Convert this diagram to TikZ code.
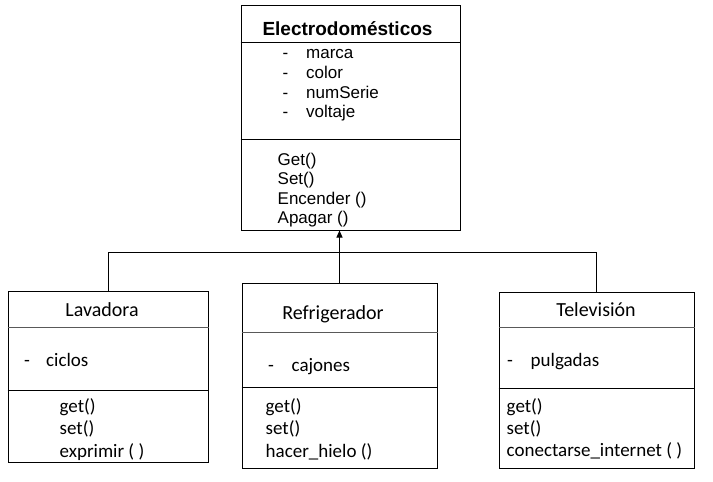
\documentclass[tikz,border=0pt]{standalone}
\usepackage{fontspec}
\setmainfont{Liberation Sans}
\newfontfamily\cbfont{Carlito}
\usetikzlibrary{arrows.meta}
\tikzset{
  box/.style={draw, line width=1pt, inner sep=0pt, anchor=north west},
  ttl/.style={anchor=base, inner sep=0pt, font=\bfseries\fontsize{19}{22}\selectfont},
  atxt/.style={anchor=base west, inner sep=0pt, font=\fontsize{17}{20}\selectfont},
  ctl/.style={anchor=base, inner sep=0pt, font=\cbfont\fontsize{20}{24}\selectfont},
  ctxt/.style={anchor=base west, inner sep=0pt, font=\cbfont\fontsize{19}{23}\selectfont},
  hdiv/.style={line width=1.2pt, draw=black!65},
  div/.style={line width=1pt},
  conn/.style={line width=1pt},
}
\begin{document}
\begin{tikzpicture}[x=1pt,y=-1pt]
\useasboundingbox (0,0) rectangle (713,482);
\fill[white] (0,0) rectangle (713,482);

% Electrodomesticos
\node[box, minimum width=219pt, minimum height=225pt] (elec) at (240.5,4.5) {};
\draw[div] ([yshift=-38pt]elec.north west) -- ([yshift=-38pt]elec.north east);
\draw[div] ([yshift=-135pt]elec.north west) -- ([yshift=-135pt]elec.north east);
\node[ttl] (etitle) at (347.5,35) {Electrodomésticos};
\node[atxt] (ed1) at (282.5,58.3) {-};
\node[atxt] (ed2) at (282.5,78.3) {-};
\node[atxt] (ed3) at (282.5,98.3) {-};
\node[atxt] (ed4) at (282.5,117.8) {-};
\node[atxt] (ea1) at (306,58.3) {marca};
\node[atxt] (ea2) at (306,78.3) {color};
\node[atxt] (ea3) at (306,98.3) {numSerie};
\node[atxt] (ea4) at (306,117.8) {voltaje};
\node[atxt] (em1) at (277.5,165) {Get()};
\node[atxt] (em2) at (277.5,184.5) {Set()};
\node[atxt] (em3) at (277.5,204) {Encender ()};
\node[atxt] (em4) at (277.5,223.5) {Apagar ()};

% Lavadora
\node[box, minimum width=200pt, minimum height=171pt] (lav) at (7.5,290.5) {};
\draw[hdiv] ([yshift=-37pt]lav.north west) -- ([yshift=-37pt]lav.north east);
\draw[div] ([yshift=-100pt]lav.north west) -- ([yshift=-100pt]lav.north east);
\node[ctl] (ltitle) at (102,316.7) {Lavadora};
\node[ctxt] (ld1) at (24,366.7) {-};
\node[ctxt] (la1) at (46,366.7) {ciclos};
\node[ctxt] (lm1) at (59.5,412) {get()};
\node[ctxt] (lm2) at (59.5,434.5) {set()};
\node[ctxt] (lm3) at (59.5,457) {exprimir ( )};

% Refrigerador
\node[box, minimum width=195pt, minimum height=185pt] (ref) at (241.5,282.5) {};
\draw[hdiv] ([yshift=-50pt]ref.north west) -- ([yshift=-50pt]ref.north east);
\draw[div] ([yshift=-105pt]ref.north west) -- ([yshift=-105pt]ref.north east);
\node[ctl] (rtitle) at (333,319.3) {Refrigerador};
\node[ctxt] (rd1) at (268,371.7) {-};
\node[ctxt] (ra1) at (291.5,371.7) {cajones};
\node[ctxt] (rm1) at (265.5,412) {get()};
\node[ctxt] (rm2) at (265.5,434.5) {set()};
\node[ctxt] (rm3) at (265.5,457.5) {hacer\_hielo ()};

% Television
\node[box, minimum width=195pt, minimum height=176pt] (tel) at (498.5,291.5) {};
\draw[hdiv] ([yshift=-36pt]tel.north west) -- ([yshift=-36pt]tel.north east);
\draw[div] ([yshift=-97pt]tel.north west) -- ([yshift=-97pt]tel.north east);
\node[ctl] (ttitle) at (596,316.7) {Televisión};
\node[ctxt] (td1) at (507,366.3) {-};
\node[ctxt] (ta1) at (530.5,366.3) {pulgadas};
\node[ctxt] (tm1) at (506.5,412) {get()};
\node[ctxt] (tm2) at (506.5,434) {set()};
\node[ctxt] (tm3) at (506.5,456) {conectarse\_internet ( )};

% Connectors
\coordinate (jl) at (lav.north |- 0,252.5);
\coordinate (jr) at (tel.north |- 0,252.5);
\draw[conn] (lav.north) -- (jl) -- (jr) -- (tel.north);
\draw[conn, -{Triangle[length=7pt,width=6pt]}] (ref.north) -- (ref.north |- elec.south);
\end{tikzpicture}
\end{document}
